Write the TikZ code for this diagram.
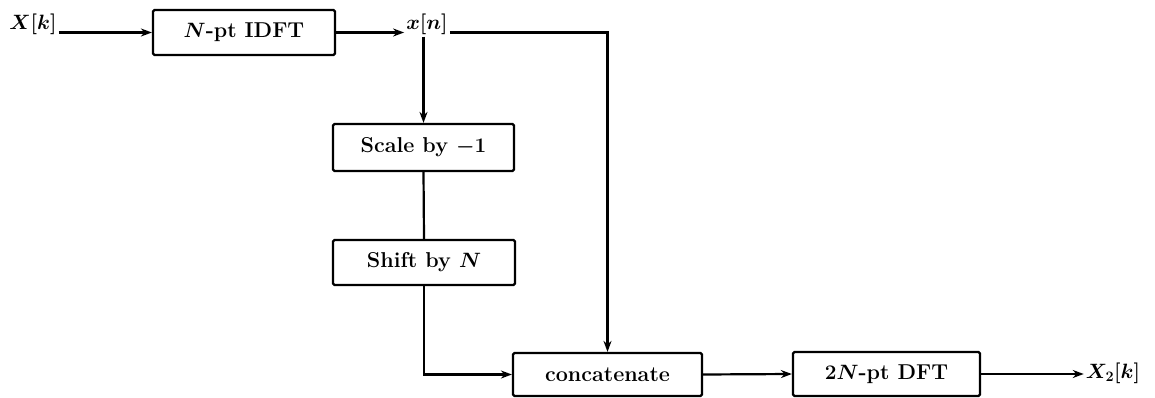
\documentclass[tikz,border=0pt]{standalone}
\usetikzlibrary{arrows.meta}
\begin{document}
\begin{tikzpicture}[x=1pt,y=-1pt,
  blk/.style={draw, line width=2.2pt, rounded corners=1.5pt, inner sep=0pt, minimum height=45pt, font=\fontsize{21.5}{25}\selectfont\bfseries\boldmath},
  lbl/.style={inner sep=2pt, font=\fontsize{21.5}{25}\selectfont\bfseries\boldmath},
  arr/.style={line width=2.2pt, -{Stealth[length=11pt,width=8pt]}},
  ln/.style={line width=2.2pt}]
\useasboundingbox (0,0) rectangle (1155,398);
\node[lbl] (Xk) at (33,24) {$X[k]$};
\node[blk, minimum width=182pt] (idft) at (244,32.5) {$N$-pt IDFT};
\node[lbl] (xn) at (427,24) {$x[n]$};
\node[blk, minimum width=181pt, minimum height=47pt] (scale) at (423.5,147.5) {Scale by $-1$};
\node[blk, minimum width=182pt] (shift) at (424,262.5) {Shift by $N$};
\node[blk, minimum width=189pt, minimum height=43pt] (concat) at (607.5,374.5) {concatenate};
\node[blk, minimum width=187pt, minimum height=44pt] (dft) at (886.5,374) {$2N$-pt DFT};
\node[lbl] (X2) at (1113,373) {$X_2[k]$};
\draw[arr] (Xk.east |- idft.west) -- (idft.west);
\draw[arr] (idft.east) -- (xn.west |- idft.east);
\draw[arr] (xn.east |- idft.east) -| (concat.north);
\draw[arr] (scale.north |- xn.south) -- (scale.north);
\draw[ln] (scale.south) -- (shift.north);
\draw[arr] (shift.south) |- (concat.west);
\draw[arr] (concat.east) -- (dft.west);
\draw[arr] (dft.east) -- (X2.west |- dft.east);
\end{tikzpicture}
\end{document}
